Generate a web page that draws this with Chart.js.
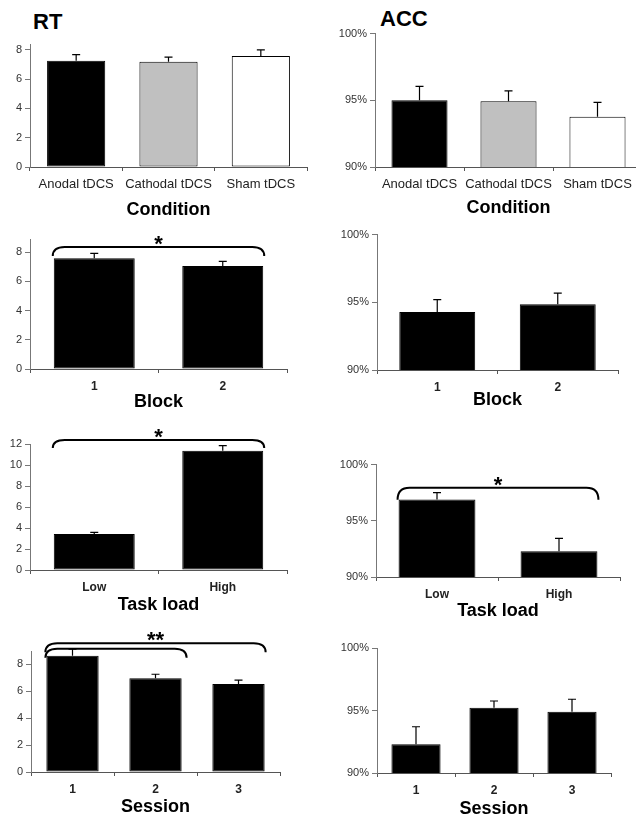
<!DOCTYPE html>
<html>
<head>
<meta charset="utf-8">
<script src="https://cdn.jsdelivr.net/npm/chart.js@4.4.1/dist/chart.umd.min.js"></script>
<style>
    body { margin: 0; background: #fff; overflow: hidden; width: 636px; height: 817px; position: relative; font-family: "Liberation Sans", Arial, sans-serif; }
    canvas { position: absolute; }
    .head { position: absolute; font-weight: bold; font-size: 22px; line-height: 1; color: #000; }
</style>
</head>
<body>
<div class="head" style="left:33px;top:11px">RT</div>
<div class="head" style="left:380px;top:8px">ACC</div>
<script>
// --- data ---
const conditionLabels = ['Anodal tDCS', 'Cathodal tDCS', 'Sham tDCS'];
const blockLabels = ['1', '2'];
const loadLabels = ['Low', 'High'];
const sessionLabels = ['1', '2', '3'];

const rtCondition = [7.26, 7.19, 7.58];
const rtConditionSem = [0.41, 0.31, 0.42];
const accCondition = [95.0, 94.93, 93.76];
const accConditionSem = [1.05, 0.77, 1.09];

const rtBlock = [7.58, 7.05];
const rtBlockSem = [0.34, 0.32];
const accBlock = [94.29, 94.85];
const accBlockSem = [0.91, 0.83];

const rtLoad = [3.43, 11.36];
const rtLoadSem = [0.16, 0.48];
const accLoad = [96.9, 92.3];
const accLoadSem = [0.6, 1.14];

const rtSession = [8.65, 6.97, 6.54];
const rtSessionSem = [0.48, 0.30, 0.30];
const accSession = [92.3, 95.22, 94.9];
const accSessionSem = [1.4, 0.54, 1.0];

// significance brackets: bar index range, y level on the value axis, mark
const rtBlockSig = [{ from: 0, to: 1, level: 8.36, mark: '*' }];
const rtLoadSig = [{ from: 0, to: 1, level: 12.38, mark: '*' }];
const accLoadSig = [{ from: 0, to: 1, level: 97.94, mark: '*' }];
const rtSessionSig = [
    { from: 0, to: 2, level: 9.58, mark: '**' },
    { from: 0, to: 1, level: 9.16, mark: '' }
];

// --- styles ---
const condColors = ['#000000', '#c0c0c0', '#ffffff'];
const black = '#000000';

// box = canvas [left, top, right, bottom], plot = chart area [left, top, right, bottom]
const panels = [
    { box: [0, 30, 318, 221], plot: [30, 44, 307, 167], labels: conditionLabels, values: rtCondition, sem: rtConditionSem, colors: condColors, min: 0, max: 8.4, step: 2, pct: false, title: 'Condition', bold: false },
    { box: [318, 24, 650, 219], plot: [375, 33, 642, 167], labels: conditionLabels, values: accCondition, sem: accConditionSem, colors: condColors, min: 90, max: 100, step: 5, pct: true, title: 'Condition', bold: false },
    { box: [0, 225, 318, 413], plot: [30, 239, 287, 369], labels: blockLabels, values: rtBlock, sem: rtBlockSem, colors: black, min: 0, max: 8.9, step: 2, pct: false, title: 'Block', bold: true, sig: rtBlockSig, drop: 9 },
    { box: [318, 225, 636, 411], plot: [377, 234, 618, 370], labels: blockLabels, values: accBlock, sem: accBlockSem, colors: black, min: 90, max: 100, step: 5, pct: true, title: 'Block', bold: true },
    { box: [0, 418, 318, 616], plot: [30, 444, 287, 570], labels: loadLabels, values: rtLoad, sem: rtLoadSem, colors: black, min: 0, max: 12, step: 2, pct: false, title: 'Task load', bold: true, sig: rtLoadSig, drop: 8 },
    { box: [318, 455, 636, 622], plot: [376, 452, 620, 577], labels: loadLabels, values: accLoad, sem: accLoadSem, colors: black, min: 90, max: 100, step: 5, pct: true, title: 'Task load', bold: true, sig: accLoadSig, drop: 12 },
    { box: [0, 622, 318, 818], plot: [31, 651, 280, 772], labels: sessionLabels, values: rtSession, sem: rtSessionSem, colors: black, min: 0, max: 9, step: 2, pct: false, title: 'Session', bold: true, sig: rtSessionSig, drop: 9 },
    { box: [318, 630, 636, 820], plot: [377, 648, 611, 773], labels: sessionLabels, values: accSession, sem: accSessionSem, colors: black, min: 90, max: 100, step: 5, pct: true, title: 'Session', bold: true }
];

const overlayPlugin = {
    id: 'overlay',
    afterDatasetsDraw(chart) {
        const p = chart.config.options.panel;
        const ctx = chart.ctx;
        const y = chart.scales.y;
        const bars = chart.getDatasetMeta(0).data;
        ctx.save();
        ctx.strokeStyle = '#000';
        // error bars (upper only)
        ctx.lineWidth = 1.2;
        bars.forEach((bar, i) => {
            const top = y.getPixelForValue(p.values[i] + p.sem[i]);
            ctx.beginPath();
            ctx.moveTo(bar.x, bar.y);
            ctx.lineTo(bar.x, top);
            ctx.moveTo(bar.x - 4, top);
            ctx.lineTo(bar.x + 4, top);
            ctx.stroke();
        });
        // significance brackets
        (p.sig || []).forEach(s => {
            const a = bars[s.from], b = bars[s.to];
            const x1 = a.x - a.width / 2 - 1;
            const x2 = b.x + b.width / 2 + (s.to < bars.length - 1 ? 5 : 1);
            const yt = y.getPixelForValue(s.level);
            const d = p.drop;
            ctx.lineWidth = 2;
            ctx.beginPath();
            ctx.moveTo(x1, yt + d);
            ctx.quadraticCurveTo(x1, yt, x1 + 12, yt);
            ctx.lineTo(x2 - 12, yt);
            ctx.quadraticCurveTo(x2, yt, x2, yt + d);
            ctx.stroke();
            if (s.mark) {
                ctx.fillStyle = '#000';
                ctx.font = 'bold 22px "Liberation Sans", Arial, sans-serif';
                ctx.textAlign = 'center';
                ctx.textBaseline = 'alphabetic';
                ctx.fillText(s.mark, (a.x + b.x) / 2, yt + 4);
            }
        });
        ctx.restore();
    }
};

function makeChart(p) {
    const canvas = document.createElement('canvas');
    const w = p.box[2] - p.box[0];
    const h = p.box[3] - p.box[1];
    canvas.width = w;
    canvas.height = h;
    canvas.style.left = p.box[0] + 'px';
    canvas.style.top = p.box[1] + 'px';
    canvas.style.width = w + 'px';
    canvas.style.height = h + 'px';
    document.body.appendChild(canvas);

    return new Chart(canvas, {
        type: 'bar',
        data: {
            labels: p.labels,
            datasets: [{
                data: p.values,
                backgroundColor: p.colors,
                borderColor: '#000',
                borderWidth: 1,
                borderSkipped: false,
                categoryPercentage: 1,
                barPercentage: 0.63
            }]
        },
        options: {
            panel: p,
            responsive: false,
            animation: false,
            devicePixelRatio: 1,
            layout: { autoPadding: false, padding: { left: 0, top: p.plot[1] - p.box[1], right: p.box[2] - p.plot[2], bottom: 0 } },
            plugins: { legend: { display: false }, tooltip: { enabled: false } },
            scales: {
                x: {
                    grid: { drawOnChartArea: false, drawTicks: true, tickLength: 4, color: '#555', offset: true },
                    border: { color: '#555', width: 1 },
                    ticks: {
                        color: '#222', padding: 6, maxRotation: 0, autoSkip: false,
                        font: { family: '"Liberation Sans", Arial, sans-serif', size: p.bold ? 12 : 13, weight: p.bold ? 'bold' : 'normal' }
                    },
                    title: {
                        display: true, text: p.title, color: '#000', padding: { top: 0, bottom: 0 },
                        font: { family: '"Liberation Sans", Arial, sans-serif', size: 18, weight: 'bold' }
                    },
                    afterFit: s => { s.height = p.box[3] - p.plot[3]; }
                },
                y: {
                    min: p.min, max: p.max,
                    grid: { drawOnChartArea: false, tickLength: 5, color: '#777' },
                    border: { color: '#777', width: 1 },
                    ticks: {
                        stepSize: p.step, includeBounds: false, color: '#333', padding: 3,
                        font: { family: '"Liberation Sans", Arial, sans-serif', size: 11 },
                        callback: v => p.pct ? v + '%' : v
                    },
                    afterFit: s => { s.width = p.plot[0] - p.box[0]; }
                }
            }
        },
        plugins: [overlayPlugin]
    });
}

panels.forEach(makeChart);
</script>
</body>
</html>
